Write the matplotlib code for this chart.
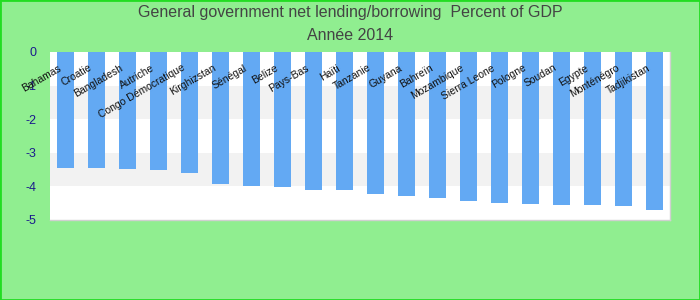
import numpy as np
import matplotlib.pyplot as plt
from matplotlib.patches import Rectangle

# Data
countries = ['Bahamas', 'Croatie', 'Bangladesh', 'Autriche', 'Congo Démocratique',
             'Kirghizstan', 'Sénégal', 'Belize', 'Pays-Bas', 'Haïti',
             'Tanzanie', 'Guyana', 'Bahreïn', 'Mozambique', 'Sierra Leone',
             'Pologne', 'Soudan', 'Egypte', 'Monténégro', 'Tadjikistan']
values = [-3.44, -3.44, -3.47, -3.50, -3.59,
          -3.92, -3.98, -4.01, -4.10, -4.10,
          -4.22, -4.28, -4.34, -4.42, -4.48,
          -4.51, -4.54, -4.54, -4.57, -4.69]
yticks = [0, -1, -2, -3, -4, -5]

title1 = 'General government net lending/borrowing  Percent of GDP'
title2 = 'Année 2014'

plt.rcParams['font.family'] = ['Liberation Sans', 'DejaVu Sans']

fig = plt.figure(figsize=(7, 3), dpi=100, facecolor='#90ee90')
ax = fig.add_axes([50/700, 1-220/300, 620/700, 168/300])
ax.set_facecolor('white')

# alternating bands
for k in range(5):
    if k % 2 == 1:
        ax.axhspan(-k, -k-1, color='#f2f2f2', zorder=0, lw=0)

x = np.arange(len(countries))
ax.bar(x, values, width=0.55, color='#63a9f3', zorder=2)

ax.set_xlim(-0.5, len(countries)-0.5)
ax.set_ylim(-5, 0)
ax.set_yticks(yticks)
ax.set_yticklabels([str(t) for t in yticks], color='#1a1a8c', fontsize=9)
ax.tick_params(axis='y', length=0, pad=10)
ax.set_xticks([])

for s in ax.spines.values():
    s.set_color('#d0d0d0')
    s.set_linewidth(1)
ax.spines['top'].set_visible(False)
ax.spines['left'].set_visible(False)

# rotated labels inside the plot
for i, name in enumerate(countries):
    ax.text(i - 0.17, -0.45, name, rotation=30, rotation_mode='anchor',
            ha='right', va='center', fontsize=7.5, color='#111111', zorder=3)

fig.text(0.5, 1-13/300, title1, ha='center', va='center', fontsize=11.5, color='#444444')
fig.text(0.5, 1-36/300, title2, ha='center', va='center', fontsize=11.5, color='#444444')

# outer border
fig.patches.append(Rectangle((0, 0), 1, 1, transform=fig.transFigure,
                             fill=False, edgecolor='#22dd22', linewidth=2))

fig.savefig('out.png', dpi=100, facecolor=fig.get_facecolor())
